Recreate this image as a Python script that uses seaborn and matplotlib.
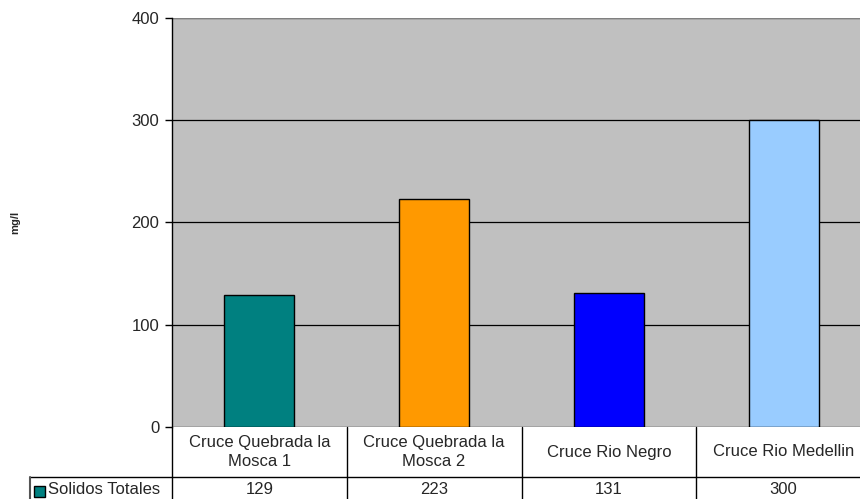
import matplotlib
matplotlib.use("Agg")
import matplotlib.pyplot as plt
import matplotlib.transforms as mtransforms
from matplotlib.patches import Rectangle
import seaborn as sns
import pandas as pd

# Data
categories = ["Cruce Quebrada la\nMosca 1", "Cruce Quebrada la\nMosca 2",
              "Cruce Rio Negro", "Cruce Rio Medellin"]
values = [129, 223, 131, 300]
series_name = "Solidos Totales"
colors = ["#008080", "#FF9900", "#0000FF", "#99CCFF"]
y_ticks = [0, 100, 200, 300, 400]
y_label = "mg/l"

sns.set_theme(style="white")
plt.rcParams["font.family"] = ["Liberation Sans", "DejaVu Sans"]

W, H = 860, 499
AX_L, AX_R, AX_T, AX_B = 172, 871, 18, 427
fig = plt.figure(figsize=(W / 100, H / 100), dpi=100)
ax = fig.add_axes([AX_L / W, 1 - AX_B / H, (AX_R - AX_L) / W, (AX_B - AX_T) / H])
ax.set_facecolor("#C0C0C0")

df = pd.DataFrame({"cat": categories, "val": values})
sns.barplot(data=df, x="cat", y="val", hue="cat", palette=colors,
            saturation=1, width=0.40, edgecolor="black", linewidth=1,
            legend=False, ax=ax, zorder=3)

ax.set_xlim(-0.5, 3.5)
ax.set_ylim(0, 400)
ax.set_yticks(y_ticks)
ax.set_yticklabels([str(v) for v in y_ticks], fontsize=12)
ax.set_xticks([])
ax.set_xlabel("")
ax.set_ylabel(y_label, fontsize=8, fontweight="bold")
ax.yaxis.set_label_coords((20 - AX_L) / (AX_R - AX_L), 0.5)
ax.tick_params(axis="y", direction="out", length=5, width=1, color="black",
               left=True, pad=4)
ax.grid(axis="y", color="black", linewidth=0.9, zorder=1)
ax.set_axisbelow(True)
for s in ["top", "right", "bottom"]:
    ax.spines[s].set_visible(False)
ax.spines["left"].set_color("black")
ax.spines["left"].set_linewidth(1)
ax.axhline(400, color="#9A9A9A", linewidth=1.2, zorder=2)
ax.axhline(0, color="#9A9A9A", linewidth=1.0, zorder=2)

# Data table below the plot
trans = mtransforms.blended_transform_factory(ax.transData, fig.transFigure)
def fy(py):
    return 1 - py / H

line_kw = dict(color="black", linewidth=1, clip_on=False)
# vertical separators across both rows
for b in [-0.5, 0.5, 1.5, 2.5, 3.5]:
    ax.plot([b, b], [fy(427), fy(H)], transform=trans, **line_kw)
# horizontal line between header and value rows
fig.add_artist(plt.Line2D([30 / W, 1], [fy(476.5), fy(476.5)], color="black",
                          linewidth=1))
# left edge of the legend cell
fig.add_artist(plt.Line2D([30 / W, 30 / W], [fy(476.5), 0], color="#555555",
                          linewidth=1.5))

LINE_STEP = 20  # pixel distance between wrapped header lines
for i, (c, v) in enumerate(zip(categories, values)):
    parts = c.split("\n")
    n = len(parts)
    for j, part in enumerate(parts):
        yy = 452 + (j - (n - 1) / 2) * LINE_STEP
        ax.text(i, fy(yy), part, transform=trans, ha="center", va="center",
                fontsize=12)
    ax.text(i, fy(490), str(v), transform=trans, ha="center", va="center",
            fontsize=12)

# legend key + series name
fig.add_artist(Rectangle((33.5 / W, fy(497)), 11.5 / W, 11.5 / H,
                         facecolor=colors[0], edgecolor="black", linewidth=1))
fig.text(48 / W, fy(490), series_name, ha="left", va="center", fontsize=12)

fig.savefig("out.png", dpi=100)
